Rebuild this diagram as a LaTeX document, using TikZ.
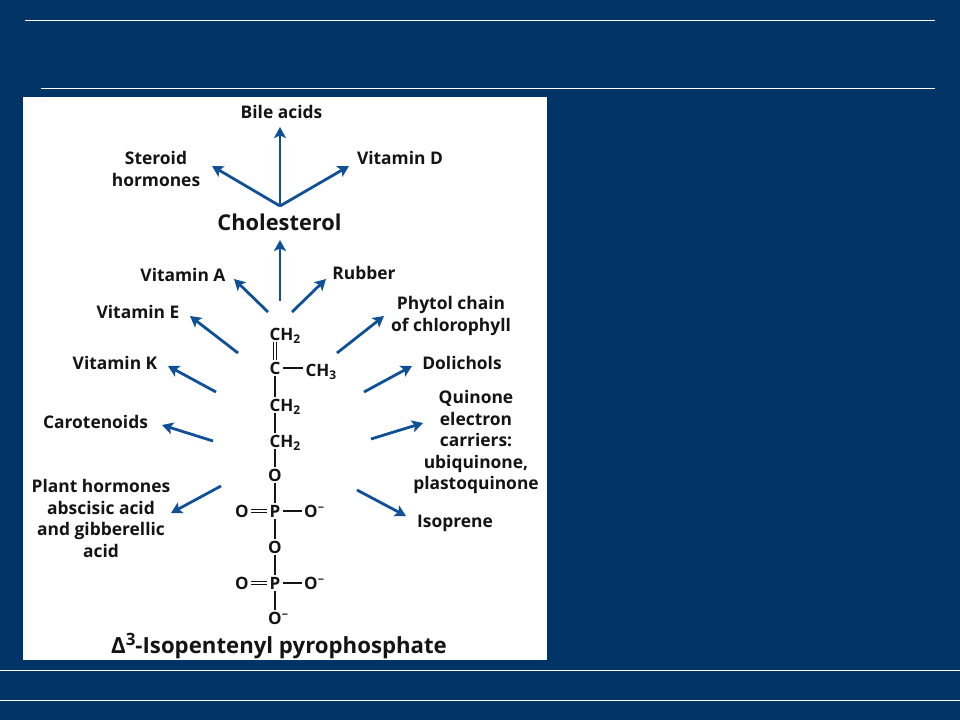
\documentclass[tikz,border=0pt]{standalone}
\usepackage{fontspec}
\setmainfont{Open Sans}
\usetikzlibrary{arrows.meta}
\definecolor{bgblue}{RGB}{0,51,102}
\definecolor{arrowblue}{RGB}{15,80,150}
\definecolor{ink}{RGB}{20,20,20}
\newcommand{\subs}[1]{\raisebox{-0.35ex}{\fontsize{12}{12}\selectfont #1}}
\newcommand{\sups}[1]{\raisebox{0.6ex}{\fontsize{11}{11}\selectfont #1}}
\newcommand{\tailtext}[1]{\rlap{\smash{#1}}}
\tikzset{
  x=1pt,y=-1pt,
  lbl/.style={font=\fontsize{17.4}{21.5}\selectfont\bfseries,text=ink,align=center,inner sep=0pt},
  atom/.style={font=\fontsize{17}{18}\selectfont\bfseries,text=ink,inner sep=2pt},
  bond/.style={draw=ink,line width=1.4pt},
  dbond/.style={draw=ink,line width=4.6pt,postaction={draw=white,line width=1.6pt}},
  arw/.style={draw=arrowblue,line width=2.8pt,-{Stealth[length=11pt,width=12pt,inset=2.5pt]}},
  rule/.style={draw=white,line width=0.8pt}
}
\begin{document}
\begin{tikzpicture}
\useasboundingbox (0,0) rectangle (960,720);
\fill[bgblue] (0,0) rectangle (960,720);
\fill[white] (23,97) rectangle (547,659.5);
\draw[rule] (25,20) -- (935,20);
\draw[rule] (41,88.5) -- (935,88.5);
\draw[rule] (0,670) -- (960,670);
\draw[rule] (0,700) -- (960,700);

% labels
\node[lbl] (bile) at (281.5,112) {Bile acids};
\node[lbl] (steroid) at (156,169) {Steroid\\hormones};
\node[lbl] (vitd) at (400,158) {Vitamin D};
\node[lbl,font=\fontsize{21.8}{24}\selectfont\bfseries] (chol) at (279.5,222) {Cholesterol};
\node[lbl] (vita) at (183,275) {Vitamin A};
\node[lbl] (rubber) at (364,273) {Rubber};
\node[lbl] (vite) at (138,312) {Vitamin E};
\node[lbl] (phytol) at (451,316) {Phytol chain\\of chlorophyll};
\node[lbl] (vitk) at (115,363) {Vitamin K};
\node[lbl] (dolichols) at (462,363) {Dolichols};
\node[lbl] (carot) at (95.5,422) {Carotenoids};
\node[lbl] (quinone) at (476,442) {Quinone\\electron\\carriers:\\ubiquinone,\\plastoquinone};
\node[lbl] (plant) at (101,518.5) {Plant hormones\\abscisic acid\\and gibberellic\\acid};
\node[lbl] (isoprene) at (455,523) {Isoprene};
\node[lbl,font=\fontsize{22.2}{24}\selectfont\bfseries] (title) at (279,646) {Δ\raisebox{0.7ex}{\fontsize{17}{17}\selectfont 3}-Isopentenyl pyrophosphate};

% atoms
\node[atom] (ch2a) at (275,334) {C\tailtext{H\subs{2}}};
\node[atom] (c) at (275,368) {C};
\node[atom] (ch3) at (311,370) {C\tailtext{H\subs{3}}};
\node[atom] (ch2b) at (275,405) {C\tailtext{H\subs{2}}};
\node[atom] (ch2c) at (275,441) {C\tailtext{H\subs{2}}};
\node[atom] (o1) at (275,475) {O};
\node[atom] (p1) at (275,511) {P};
\node[atom] (o2) at (242,511) {O};
\node[atom] (o3) at (311,511) {O\tailtext{\sups{−}}};
\node[atom] (o4) at (275,547) {O};
\node[atom] (p2) at (275,583) {P};
\node[atom] (o5) at (242,583) {O};
\node[atom] (o6) at (311,583) {O\tailtext{\sups{−}}};
\node[atom] (o7) at (275,618) {O\tailtext{\sups{−}}};

% bonds
\draw[dbond] (ch2a) -- (c);
\draw[bond] (c.east) -- (c.east -| ch3.west);
\draw[bond] (c) -- (ch2b);
\draw[bond] (ch2b) -- (ch2c);
\draw[bond] (ch2c) -- (o1);
\draw[bond] (o1) -- (p1);
\draw[dbond] (o2) -- (p1);
\draw[bond] (p1) -- (o3);
\draw[bond] (p1) -- (o4);
\draw[bond] (o4) -- (p2);
\draw[dbond] (o5) -- (p2);
\draw[bond] (p2) -- (o6);
\draw[bond] (p2) -- (o7);

% arrow ends
\coordinate (hub) at (280,206);
\coordinate (ubile) at (280,127);
\coordinate (usteroid) at (212,166);
\coordinate (uvitd) at (349,166);
\coordinate (acen) at (280,301);
\coordinate (achol) at (280,240);
\coordinate (avitaS) at (268,312);
\coordinate (avitaE) at (234,279);
\coordinate (arubS) at (292,312);
\coordinate (arubE) at (326,279);
\coordinate (aviteS) at (238,353);
\coordinate (aviteE) at (190,316);
\coordinate (aphyS) at (337,353);
\coordinate (aphyE) at (384,316);
\coordinate (avitkS) at (216,392);
\coordinate (avitkE) at (168,366);
\coordinate (adolS) at (364,392);
\coordinate (adolE) at (412,366);
\coordinate (acarS) at (213,441);
\coordinate (acarE) at (162,425);
\coordinate (aquiS) at (371,439);
\coordinate (aquiE) at (423,423);
\coordinate (aplaS) at (221,486);
\coordinate (aplaE) at (171,513);
\coordinate (aisoS) at (357,490);
\coordinate (aisoE) at (406,516);

% arrows
\draw[arw] (hub) -- (ubile);
\draw[arw] (hub) -- (usteroid);
\draw[arw] (hub) -- (uvitd);
\draw[arw] (acen) -- (achol);
\draw[arw] (avitaS) -- (avitaE);
\draw[arw] (arubS) -- (arubE);
\draw[arw] (aviteS) -- (aviteE);
\draw[arw] (aphyS) -- (aphyE);
\draw[arw] (avitkS) -- (avitkE);
\draw[arw] (adolS) -- (adolE);
\draw[arw] (acarS) -- (acarE);
\draw[arw] (aquiS) -- (aquiE);
\draw[arw] (aplaS) -- (aplaE);
\draw[arw] (aisoS) -- (aisoE);
\end{tikzpicture}
\end{document}
